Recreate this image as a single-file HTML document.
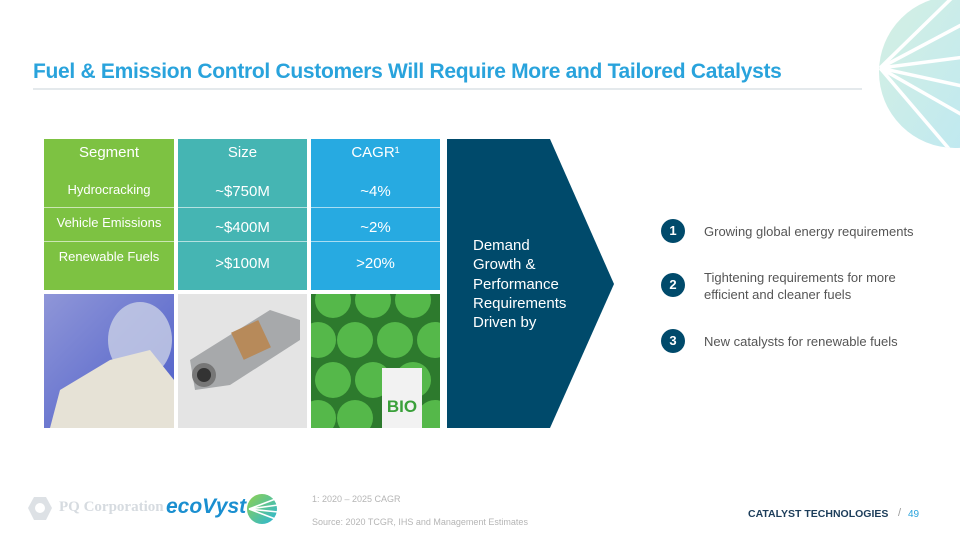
<!DOCTYPE html>
<html><head><meta charset="utf-8"><style>
body{margin:0;width:960px;height:540px;overflow:hidden;background:#fff;font-family:"Liberation Sans",sans-serif;position:relative}
.a{position:absolute}
.title{left:33px;top:60px;font-size:21px;font-weight:bold;color:#29a3dc;letter-spacing:-0.3px}
.cell{position:absolute;color:#fff;text-align:center;font-size:13px}
.hdr{font-size:15px}
.num{font-size:15px}
.item{position:absolute;left:704px;color:#555;font-size:13px;line-height:17px}
.circ{position:absolute;left:661px;width:24px;height:24px;border-radius:50%;background:#004a6b;color:#fff;font-weight:bold;font-size:13px;text-align:center;line-height:24px}
</style></head><body>
<svg class="a" style="left:0;top:0" width="960" height="540">
<defs>
<linearGradient id="dg" x1="0" y1="0" x2="1" y2="1"><stop offset="0" stop-color="#d6f0e2"/><stop offset="1" stop-color="#c0e9f0"/></linearGradient>
<clipPath id="cc"><circle cx="955" cy="72" r="76"/></clipPath>
<clipPath id="bc"><rect x="311" y="294" width="129" height="134"/></clipPath>
<linearGradient id="lg" x1="0" y1="0" x2="1" y2="1"><stop offset="0" stop-color="#8fd14f"/><stop offset="1" stop-color="#29b6d9"/></linearGradient>
<linearGradient id="im1" x1="0" y1="0" x2="1" y2="1"><stop offset="0" stop-color="#8f96d8"/><stop offset="1" stop-color="#4b5cc8"/></linearGradient>
</defs>
<g clip-path="url(#cc)">
<rect x="870" y="0" width="90" height="150" fill="url(#dg)"/>
<g stroke="#fff" stroke-width="3.5">
<line x1="880" y1="68" x2="960" y2="-10"/><line x1="880" y1="68" x2="980" y2="15"/>
<line x1="880" y1="68" x2="980" y2="55"/><line x1="880" y1="68" x2="980" y2="90"/>
<line x1="880" y1="68" x2="980" y2="125"/><line x1="880" y1="68" x2="950" y2="150"/>
</g></g>
<line x1="33" y1="89" x2="862" y2="89" stroke="#c8d3da" stroke-width="1"/>
<polygon points="447,139 550,139 614,284 550,428 447,428" fill="#004a6b"/>
<rect x="44" y="294" width="130" height="134" fill="url(#im1)"/>
<ellipse cx="140" cy="340" rx="32" ry="38" fill="#c9cfe6" opacity="0.8"/>
<polygon points="50,428 60,390 110,360 150,350 174,380 174,428" fill="#e6e2d6"/>
<rect x="178" y="294" width="129" height="134" fill="#e4e4e4"/>
<polygon points="190,360 270,310 300,320 300,340 230,385 195,390" fill="#a7a9ab"/>
<rect x="236" y="325" width="30" height="30" fill="#b78a5a" transform="rotate(-25 251 340)"/>
<circle cx="204" cy="375" r="12" fill="#777"/><circle cx="204" cy="375" r="7" fill="#333"/>
<g clip-path="url(#bc)">
<rect x="311" y="294" width="129" height="134" fill="#2d7a2d"/>
<g fill="#55b84a">
<circle cx="333" cy="300" r="18"/><circle cx="373" cy="300" r="18"/><circle cx="413" cy="300" r="18"/>
<circle cx="318" cy="340" r="18"/><circle cx="355" cy="340" r="18"/><circle cx="395" cy="340" r="18"/><circle cx="435" cy="340" r="18"/>
<circle cx="333" cy="380" r="18"/><circle cx="373" cy="380" r="18"/><circle cx="413" cy="380" r="18"/>
<circle cx="318" cy="418" r="18"/><circle cx="355" cy="418" r="18"/><circle cx="435" cy="418" r="18"/>
</g>
<rect x="382" y="368" width="40" height="62" fill="#f2f2f2"/>
<text x="402" y="412" fill="#3aa03a" font-size="17" font-weight="bold" text-anchor="middle" font-family="Liberation Sans">BIO</text>
</g>
<polygon points="34,497 46,497 52,508 46,520 34,520 28,508" fill="#dde1e5"/>
<circle cx="40" cy="508" r="5" fill="#fff"/>
<circle cx="262" cy="509" r="15" fill="url(#lg)"/>
<g stroke="#fff" stroke-width="1.6"><line x1="249" y1="509" x2="278" y2="498"/><line x1="249" y1="509" x2="278" y2="505"/><line x1="249" y1="509" x2="278" y2="512"/><line x1="249" y1="509" x2="278" y2="520"/></g>
</svg>
<div class="a title">Fuel &amp; Emission Control Customers Will Require More and Tailored Catalysts</div>
<div class="a" style="left:44px;top:139px;width:130px;height:151px;background:#7dc242"></div>
<div class="a" style="left:178px;top:139px;width:129px;height:151px;background:#45b5b3"></div>
<div class="a" style="left:311px;top:139px;width:129px;height:151px;background:#27aae1"></div>
<div class="a" style="left:44px;top:207px;width:396px;height:1px;background:rgba(255,255,255,.6)"></div>
<div class="a" style="left:44px;top:241px;width:396px;height:1px;background:rgba(255,255,255,.6)"></div>
<div class="cell hdr" style="left:44px;width:130px;top:144px">Segment</div>
<div class="cell hdr" style="left:178px;width:129px;top:144px">Size</div>
<div class="cell hdr" style="left:311px;width:129px;top:144px">CAGR¹</div>
<div class="cell" style="left:44px;width:130px;top:182px">Hydrocracking</div>
<div class="cell" style="left:44px;width:130px;top:215px">Vehicle Emissions</div>
<div class="cell" style="left:44px;width:130px;top:249px">Renewable Fuels</div>
<div class="cell num" style="left:178px;width:129px;top:183px">~$750M</div>
<div class="cell num" style="left:178px;width:129px;top:219px">~$400M</div>
<div class="cell num" style="left:178px;width:129px;top:255px">&gt;$100M</div>
<div class="cell num" style="left:311px;width:129px;top:183px">~4%</div>
<div class="cell num" style="left:311px;width:129px;top:219px">~2%</div>
<div class="cell num" style="left:311px;width:129px;top:255px">&gt;20%</div>
<div class="a" style="left:473px;top:236px;color:#fff;font-size:15px;line-height:19.3px">Demand<br>Growth &amp;<br>Performance<br>Requirements<br>Driven by</div>
<div class="circ" style="top:219px">1</div>
<div class="circ" style="top:273px">2</div>
<div class="circ" style="top:329px">3</div>
<div class="item" style="top:223px">Growing global energy requirements</div>
<div class="item" style="top:269px">Tightening requirements for more<br>efficient and cleaner fuels</div>
<div class="item" style="top:333px">New catalysts for renewable fuels</div>
<div class="a" style="left:59px;top:499px;color:#d6dbe0;font-size:15px;font-family:'Liberation Serif',serif;font-weight:bold">PQ Corporation</div>
<div class="a" style="left:166px;top:495px;color:#1a8fd0;font-size:21px;font-style:italic;font-weight:bold">ecoVyst</div>
<div class="a" style="left:312px;top:494px;color:#b5b5b5;font-size:9px">1: 2020 – 2025 CAGR</div>
<div class="a" style="left:312px;top:517px;color:#b5b5b5;font-size:9px">Source: 2020 TCGR, IHS and Management Estimates</div>
<div class="a" style="left:748px;top:508px;color:#1c3d5a;font-size:10.5px;font-weight:bold">CATALYST TECHNOLOGIES</div>
<div class="a" style="left:898px;top:507px;color:#999;font-size:11px">/</div>
<div class="a" style="left:908px;top:509px;color:#29a3dc;font-size:10px">49</div>
</body></html>
